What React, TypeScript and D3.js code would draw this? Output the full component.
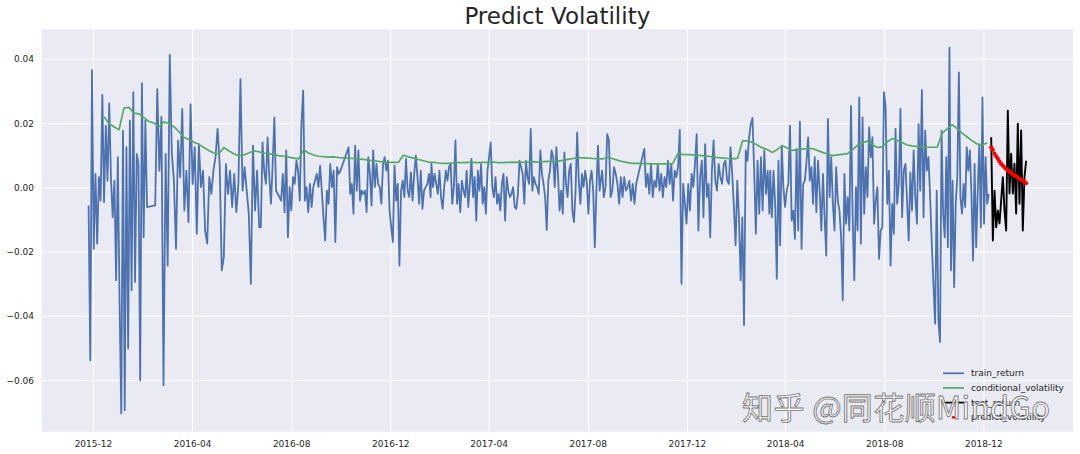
import React from "react";
import * as d3 from "d3";

const TITLE = "Predict Volatility";
const WATERMARK = "知乎 @同花顺MindGo";
const xTickLabels = ["2015-12", "2016-04", "2016-08", "2016-12", "2017-04", "2017-08", "2017-12", "2018-04", "2018-08", "2018-12"];
const yTicks = [-0.06, -0.04, -0.02, 0, 0.02, 0.04];
const legendLabels = ["train_return", "conditional_volatility", "test_return", "predict_volatility"];

// daily returns in units of 0.001; each piece runs between its two dates (split at market holidays)
const trainDates1 = ["2015-11-25", "2016-02-05"];
const trainReturn1 = [-5.5, -53.7, 36.6, -19.0, 4.3, -17.4, 3.3, -4.0, 28.9, -4.5, 19.3, 2.2, 26.2, 3.3, -9.2, 2.2, -28.8, 9.5, -35.0, -70.2, 17.8, -69.2, 12.6, -50.0, 20.9, -31.9, 29.7, -29.3, 10.5, 7.4, -59.9, 32.5, -15.4, 20.9, -6.0];
const trainDates2 = ["2016-02-15", "2016-06-22"];
const trainReturn2 = [-5.5, 30.7, 5.3, 22.1, -61.4, 10.5, -24.2, 41.4, 10.5, 2.2, -19.0, 14.7, 3.3, 24.5, -7.1, 5.3, -10.7, 26.0, 1.2, 12.6, -14.3, 13.6, 0.2, 5.3, -13.3, -17.4, 3.3, -1.9, 5.3, 9.5, 18.3, 7.4, -25.7, -21.6, 7.4, -1.9, 5.3, -6.0, 4.3, -7.6, 1.2, 33.8, -0.9, 6.4, -0.9, -8.1, -29.9, 13.1, -7.1, 5.3, -12.3];
const trainDates3 = ["2016-06-24", "2016-09-30"];
const trainReturn3 = [-12.3, 14.1, 5.3, 1.2, 15.7, 3.3, -5.0, 7.4, 21.9, -0.9, -1.9, -2.9, -4.0, 4.3, -7.6, 11.6, -15.4, 0.2, -7.1, 3.3, 1.2, 8.4, 5.3, -4.0, 19.8, 30.2, -4.0, 0.2, -7.6, 1.2, -6.0, 0.2, 2.2, 4.3, 0.2, 6.9, -0.9, -9.2, -16.4, -0.9, -5.0, 7.4, 0.2, 5.3, -16.9, 6.4, 4.3, 5.3];
const trainDates4 = ["2016-10-10", "2017-01-19"];
const trainReturn4 = [12.6, -1.9, 1.2, -8.1, 13.1, -0.9, 11.6, -4.0, -0.9, -1.9, -0.9, -7.6, 9.5, 4.3, -5.5, 11.6, 0.2, 7.4, 1.2, 0.2, -5.0, 7.4, 9.5, 5.3, 8.4, -7.1, -12.3, -16.9, 6.9, -4.0, 1.2, -24.2, -0.9, 2.2, -2.9, 9.0, -0.9, -2.9, 4.8, -4.0, 4.3, 10.0, 3.3, -5.0, 5.3, -6.6, -0.9, 0.2, 1.2, 4.3, -2.9];
const trainDates5 = ["2017-01-20", "2017-08-15"];
const trainReturn5 = [7.4, 0.2, 4.3, 1.2, -1.9, 5.3, -2.9, -6.6, 0.2, 5.3, 2.2, 6.4, 7.4, -5.0, 0.2, 14.7, -5.0, 1.2, -7.6, 2.2, -0.9, -2.9, 5.3, -6.0, 1.2, 9.0, -2.9, 3.3, -10.2, 5.3, -0.9, 7.4, -5.0, 0.2, -8.1, 5.3, 9.5, 14.1, 0.2, -2.9, 3.3, -5.0, -1.9, -7.1, 1.2, 4.3, -10.2, 3.3, -0.9, -2.9, -1.9, 0.2, -6.0, -6.6, -1.9, 8.4, 6.4, 4.3, -5.0, 8.4, 3.3, 1.2, 18.3, -0.9, 3.3, 1.2, 0.2, -1.9, 11.6, 4.3, 1.2, -2.9, -13.1, 2.2, 5.3, 11.6, 9.5, 0.2, 12.6, 4.3, -7.1, -0.9, -8.1, 11.0, 1.2, -2.9, 5.3, 7.4, -7.1, -10.7, -0.9, 17.2, 2.2, -5.0, 4.3, 0.2, 5.3, 1.7, -8.1, 2.2, 5.3, -0.9, -18.5, -0.9, 13.1, -0.9];
const trainDates6 = ["2017-08-16", "2017-09-29"];
const trainReturn6 = [1.2, 5.3, -2.9, 0.2, 16.7, 14.7, -2.9, -0.9, 6.4, 4.3, 1.2, -5.0, 3.3, -2.9, 3.3, -0.9, 0.2, 2.2, -4.0, 1.2, -5.0, 1.2];
const trainDates7 = ["2017-10-09", "2018-03-12"];
const trainReturn7 = [12.1, 0.2, 4.3, -1.9, 7.4, -2.9, 2.2, 0.2, 7.4, -0.9, 4.3, -2.9, 3.3, 0.2, 8.4, 1.2, 7.4, -4.0, 5.3, 3.3, 6.4, 18.0, -29.9, 1.2, -5.0, -11.2, 1.2, -7.1, 4.3, 0.2, 7.4, 16.7, -13.3, 3.3, 8.4, -9.2, 13.6, -2.9, 1.2, -15.4, 5.3, 14.7, 2.2, -0.9, 7.4, 3.3, 1.2, 7.4, 8.4, 2.2, 1.2, 12.6, 4.3, -6.0, -17.9, 2.2, -9.2, -28.8, -9.2, -42.8, 11.6, 8.4, 15.7, 19.8, 21.7, 5.3, -14.3, 8.4, -8.1, 9.5, -7.1, 11.6, -1.9, 5.3, -8.1];
const trainDates8 = ["2018-03-13", "2018-10-06"];
const trainReturn8 = [5.3, -9.2, 5.3, -5.0, -28.3, 8.4, -17.9, 13.1, 0.2, -6.0, -0.9, 1.2, 19.3, -10.2, -7.1, -15.9, 12.1, -13.3, 20.6, -19.0, 1.2, 2.2, 7.9, 15.7, 2.2, 6.4, -5.0, 9.5, -7.6, 8.4, -0.9, -13.3, 4.3, -9.2, -21.1, 21.4, -2.9, 9.5, -5.0, -13.3, 6.4, -4.0, -7.1, -15.4, -35.0, 4.3, -11.2, -2.9, -13.3, 25.5, -9.2, -28.8, 0.2, -13.3, 28.1, -17.4, 21.9, -8.1, 6.4, -2.9, 18.8, 9.5, 15.7, -11.2, -4.0, 0.2, -22.1, -13.3, -12.3, 29.7, 25.0, -5.0, 5.3, -24.2, -5.0, -14.3, 18.3, -5.0, 1.2, 24.5, -9.2, 5.3, 7.4, -4.0, -16.4, 4.8, -7.1, 11.6, -2.9, -11.2, 19.8, -0.9, 30.4, -9.2, 17.8, 5.3, 9.5, -2.9, -17.4, -29.9, -42.3, -0.9, -41.2];
const trainDates9 = ["2018-10-08", "2018-12-07"];
const trainReturn9 = [-48.0, 17.8, -8.1, -15.4, 9.5, -18.5, 43.6, -25.7, 2.2, -30.9, -5.0, 3.3, 35.9, -2.9, -8.1, 1.2, -6.0, 12.6, 5.3, 11.6, -1.9, -22.6, 7.4, -18.5, -0.9, 13.6, -12.3, 28.1, -11.2, 9.5, -5.0, -1.9];

// conditional volatility (units of 0.001)
const volDates = ["2015-12-14", "2018-12-05"];
const conditionalVolatility = [
  22.1, 20.0, 19.0, 18.0, 24.8, 25.0, 23.2, 23.0, 21.8, 20.6, 20.1, 19.0, 20.5, 20.0, 19.0, 17.5, 15.7, 15.0, 14.2, 13.5,
  12.5, 11.6, 10.8, 10.5, 12.5, 11.5, 10.6, 10.0, 10.2, 10.8, 11.5, 11.2, 10.8, 10.6, 10.4, 10.0, 9.8, 9.5, 9.2, 9.0,
  11.8, 10.8, 10.2, 9.8, 9.7, 9.5, 9.6, 9.4, 9.3, 9.2, 9.1, 9.0, 8.8, 8.6, 8.4, 8.2, 8.0, 7.9, 7.9, 7.9,
  10.1, 9.6, 9.2, 8.8, 8.4, 8.0, 7.9, 7.7, 7.6, 7.6, 7.7, 7.8, 7.8, 7.9, 7.9, 7.8, 7.9, 7.9, 8.0, 7.8,
  7.8, 7.9, 8.0, 7.9, 7.9, 8.0, 8.1, 8.0, 8.1, 8.2, 8.2, 8.3, 8.5, 8.8, 9.1, 9.4, 9.3, 9.2, 9.1, 9.0,
  9.0, 9.5, 9.0, 8.5, 8.1, 7.8, 7.6, 7.6, 7.5, 7.5, 7.4, 7.4, 7.4, 7.4, 7.5, 10.6, 10.4, 10.3, 10.2, 10.1,
  10.0, 9.8, 9.6, 9.4, 9.3, 9.1, 9.0, 9.2, 14.7, 14.5, 14.1, 13.2, 12.4, 11.8, 11.0, 12.0, 13.1, 12.3, 11.6, 11.8,
  12.0, 12.2, 12.2, 11.6, 11.0, 10.5, 10.0, 10.2, 10.4, 10.6, 11.8, 13.2, 14.0, 14.5, 13.4, 12.5, 12.8, 14.3, 15.3, 14.7,
  14.0, 13.3, 13.0, 12.8, 12.7, 12.6, 12.6, 12.6, 17.0, 18.3, 19.6, 18.4, 17.0, 15.8, 14.6, 13.6, 13.2, 14.0
];

// test period (units of 0.001)
const testDates = ["2018-12-10", "2019-01-22"];
const testReturn = [15.7, -16.4, -0.9, -12.3, -7.1, -11.1, -4.0, 3.3, -7.1, -13.3, 24.0, -1.8, 10.6, -1.8, 7.5, -8.0, 19.9, -5.0, 17.8, -13.3, 3.3, 8.4];
const predictVolatility = [12.6, 11.8, 10.6, 9.8, 9.0, 8.2, 7.4, 6.9, 6.3, 5.8, 5.4, 5.0, 4.6, 4.2, 3.8, 3.5, 3.2, 2.8, 2.5, 2.2, 1.8, 1.4];

const COLORS = { train: "#4C72B0", vol: "#55A868", test: "#000000", pred: "#FF0000" };
const FONT = "'DejaVu Sans', sans-serif";
const TEXT = "#262626";

type Pt = { date: Date; value: number };
const parseDay = d3.timeParse("%Y-%m-%d");
const parseMonth = d3.timeParse("%Y-%m");

function spread(range: string[], values: number[]): Pt[] {
  const t0 = +(parseDay(range[0]) as Date);
  const t1 = +(parseDay(range[1]) as Date);
  const n = values.length;
  return values.map((v, i) => ({ date: new Date(t0 + ((t1 - t0) * i) / Math.max(1, n - 1)), value: v / 1000 }));
}

export default function App() {
  const W = 1080, H = 454;
  const m = { left: 41.7, right: 1073, top: 29.3, bottom: 431.7 };

  const train: Pt[] = [
    ...spread(trainDates1, trainReturn1),
    ...spread(trainDates2, trainReturn2),
    ...spread(trainDates3, trainReturn3),
    ...spread(trainDates4, trainReturn4),
    ...spread(trainDates5, trainReturn5),
    ...spread(trainDates6, trainReturn6),
    ...spread(trainDates7, trainReturn7),
    ...spread(trainDates8, trainReturn8),
    ...spread(trainDates9, trainReturn9),
  ];
  const vol = spread(volDates, conditionalVolatility);
  const test = spread(testDates, testReturn);
  const pred = spread(testDates, predictVolatility);

  const dates = [...train, ...test].map((d) => +d.date);
  const dMin = d3.min(dates) as number, dMax = d3.max(dates) as number;
  const dPad = (dMax - dMin) * 0.05;
  const x = d3.scaleTime().domain([new Date(dMin - dPad), new Date(dMax + dPad)]).range([m.left, m.right]);

  const vals = [...train, ...test, ...vol, ...pred].map((d) => d.value);
  const vMin = d3.min(vals) as number, vMax = d3.max(vals) as number;
  const vPad = (vMax - vMin) * 0.05;
  const y = d3.scaleLinear().domain([vMin - vPad, vMax + vPad]).range([m.bottom, m.top]);

  const line = d3.line<Pt>().x((d) => x(d.date)).y((d) => y(d.value));
  const fmt = (v: number) => d3.format(".2f")(v).replace("-", "\u2212");

  const legendY0 = 373.3, legendStep = 14.65;
  const legendColors = [COLORS.train, COLORS.vol, COLORS.test, COLORS.pred];

  return (
    <svg width={W} height={H} style={{ position: "absolute", left: 0, top: 0, background: "#fff" }} fontFamily={FONT}>
      <rect x={m.left} y={m.top} width={m.right - m.left} height={m.bottom - m.top} fill="#EAEAF2" />
      {yTicks.map((t) => (
        <line key={"gy" + t} x1={m.left} x2={m.right} y1={y(t)} y2={y(t)} stroke="#fff" strokeWidth={1} />
      ))}
      {xTickLabels.map((t) => {
        const xx = x(parseMonth(t) as Date);
        return <line key={"gx" + t} x1={xx} x2={xx} y1={m.top} y2={m.bottom} stroke="#fff" strokeWidth={1} />;
      })}
      {yTicks.map((t) => (
        <text key={"ty" + t} x={34} y={y(t)} dy="0.35em" textAnchor="end" fontSize={9} fill={TEXT}>
          {fmt(t)}
        </text>
      ))}
      {xTickLabels.map((t) => (
        <text key={"tx" + t} x={x(parseMonth(t) as Date)} y={446.5} textAnchor="middle" fontSize={9} fill={TEXT}>
          {t}
        </text>
      ))}
      <text x={(m.left + m.right) / 2} y={24} textAnchor="middle" fontSize={23} fill={TEXT}>
        {TITLE}
      </text>
      <path d={line(train) || ""} fill="none" stroke={COLORS.train} strokeWidth={1.8} strokeLinejoin="round" />
      <path d={line(vol) || ""} fill="none" stroke={COLORS.vol} strokeWidth={1.7} strokeLinejoin="round" />
      <path d={line(test) || ""} fill="none" stroke={COLORS.test} strokeWidth={1.9} strokeLinejoin="round" />
      {pred.map((d, i) => (
        <circle key={"p" + i} cx={x(d.date)} cy={y(d.value)} r={2.1} fill={COLORS.pred} />
      ))}
      {legendLabels.map((lab, i) => {
        const ly = legendY0 + i * legendStep;
        return (
          <g key={lab}>
            {i < 3 ? (
              <line x1={943} x2={964} y1={ly} y2={ly} stroke={legendColors[i]} strokeWidth={1.7} />
            ) : (
              <circle cx={953.5} cy={ly} r={1.6} fill={legendColors[i]} />
            )}
            <text x={971} y={ly} dy="0.35em" fontSize={9} fill={TEXT}>
              {lab}
            </text>
          </g>
        );
      })}
      <text
        x={742}
        y={419}
        fontSize={31}
        textLength={308}
        lengthAdjust="spacing"
        fontFamily="'Noto Sans CJK SC', sans-serif"
        fill="#ffffff"
        fillOpacity={0.9}
        stroke="#7a7a7a"
        strokeWidth={0.9}
      >
        {WATERMARK}
      </text>
    </svg>
  );
}
